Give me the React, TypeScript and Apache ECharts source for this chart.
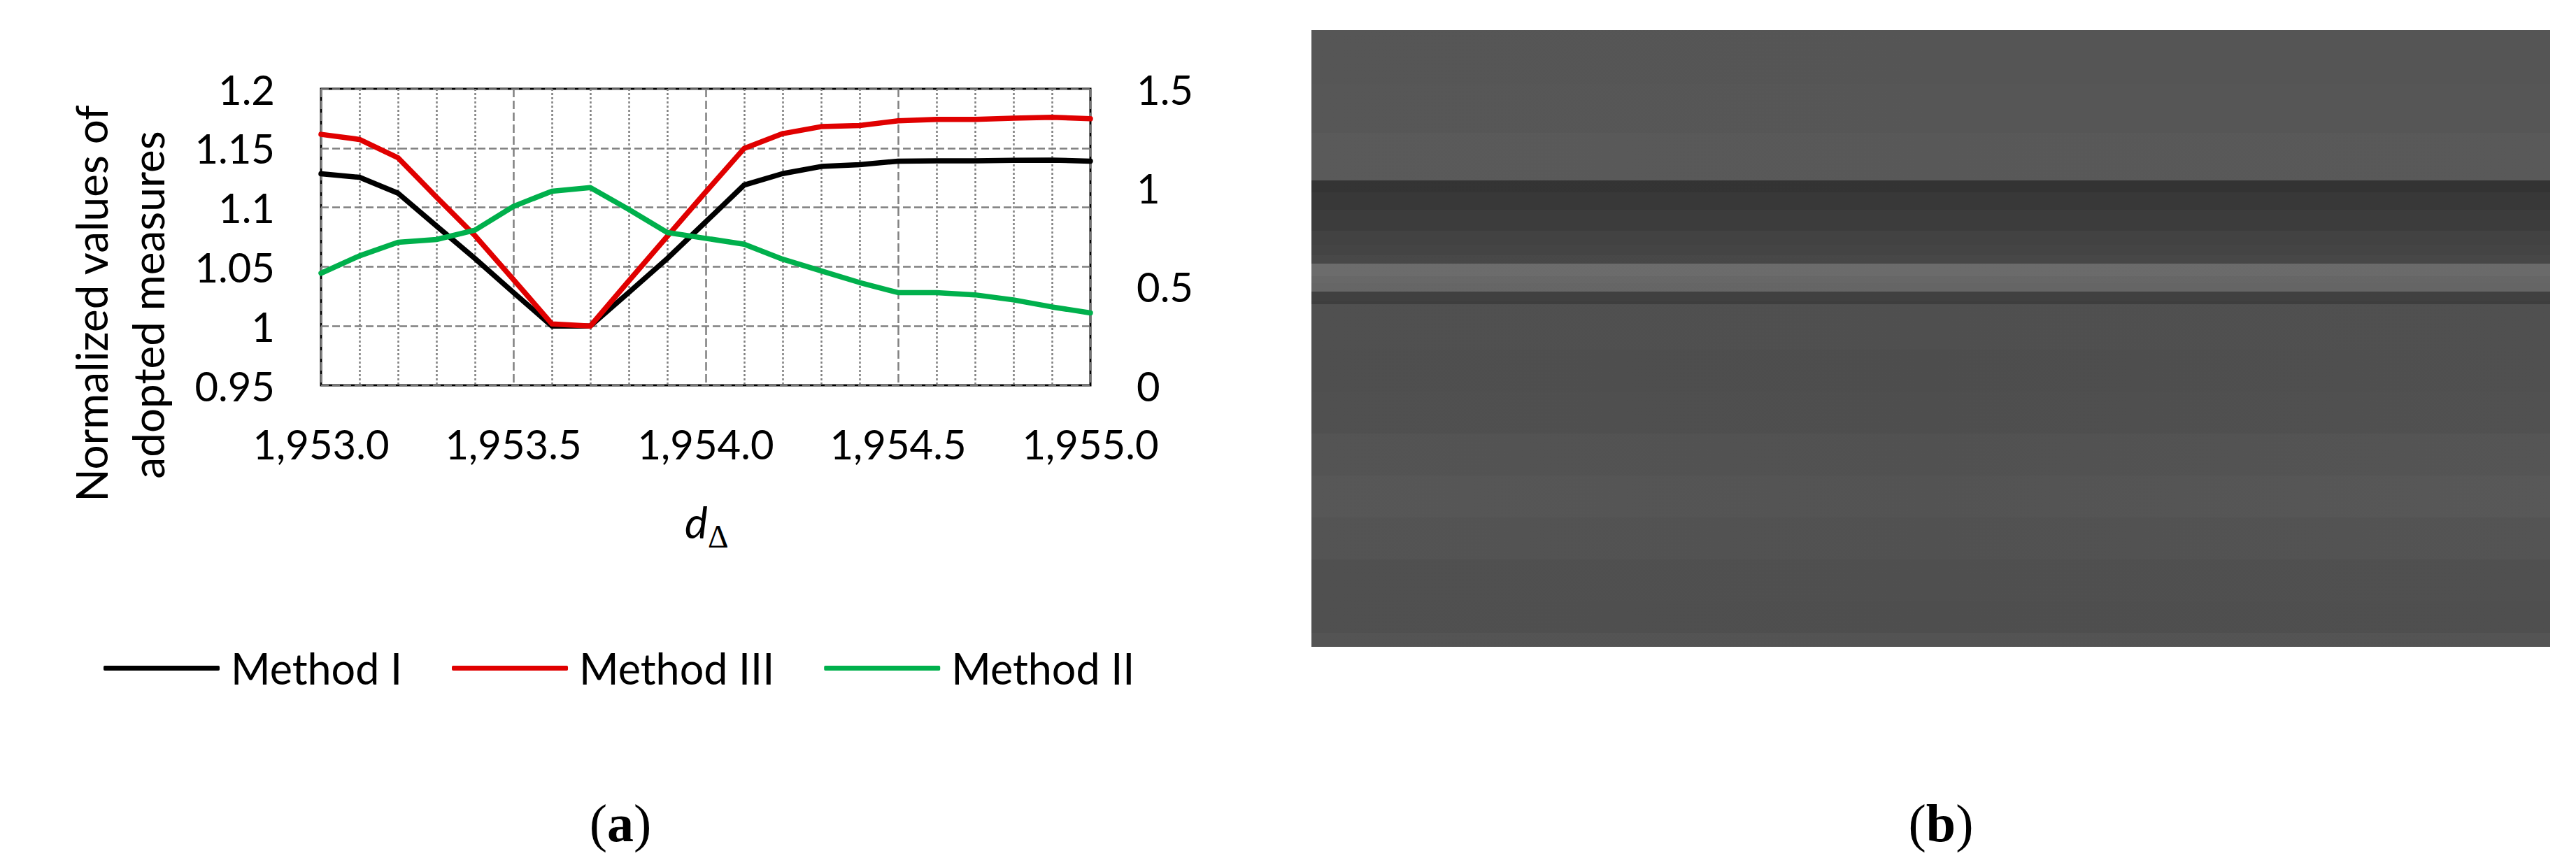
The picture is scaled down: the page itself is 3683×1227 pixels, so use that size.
import React, { useEffect, useRef } from "react";
import * as echarts from "echarts";

const FONT = "Lato";

const xValues = [1953, 1953.1, 1953.2, 1953.3, 1953.4, 1953.5, 1953.6, 1953.7, 1953.8, 1953.9, 1954, 1954.1, 1954.2, 1954.3, 1954.4, 1954.5, 1954.6, 1954.7, 1954.8, 1954.9, 1955];
const methodI = [1.1283, 1.1254, 1.112, 1.0844, 1.0569, 1.0283, 1.0, 1.0, 1.0283, 1.0569, 1.0878, 1.1189, 1.1285, 1.1345, 1.136, 1.139, 1.1393, 1.1393, 1.1397, 1.1399, 1.139];
const methodIII = [1.1616, 1.1573, 1.1419, 1.1087, 1.0762, 1.0392, 1.0018, 1.0, 1.038, 1.0756, 1.113, 1.1498, 1.1622, 1.1681, 1.1691, 1.173, 1.1742, 1.1742, 1.1752, 1.176, 1.1748];
const methodII = [0.567, 0.655, 0.7235, 0.7376, 0.785, 0.905, 0.982, 1.0, 0.89, 0.773, 0.7435, 0.714, 0.638, 0.579, 0.52, 0.469, 0.469, 0.4576, 0.432, 0.3965, 0.366];
const legendNames = ["Method I", "Method III", "Method II"];

// panel (b): horizontal strips, rows in picture pixels, grey levels read at left / centre / right
const stripEdges = [43, 120, 190, 258, 275, 300, 330, 350, 365, 377, 395, 405, 417, 430, 435, 500, 560, 620, 680, 740, 800, 860, 905, 925];
const stripLeft = [0x56, 0x57, 0x5a, 0x34, 0x38, 0x3c, 0x42, 0x44, 0x48, 0x6c, 0x68, 0x66, 0x40, 0x3e, 0x50, 0x4f, 0x50, 0x54, 0x57, 0x54, 0x50, 0x50, 0x54];
const stripMid = [0x55, 0x56, 0x58, 0x33, 0x38, 0x3c, 0x42, 0x44, 0x47, 0x6b, 0x67, 0x65, 0x40, 0x3e, 0x4f, 0x4d, 0x4e, 0x51, 0x53, 0x51, 0x4f, 0x4e, 0x53];
const stripRight = [0x55, 0x56, 0x59, 0x33, 0x38, 0x3c, 0x42, 0x44, 0x47, 0x6a, 0x66, 0x65, 0x40, 0x3e, 0x50, 0x50, 0x51, 0x55, 0x58, 0x54, 0x50, 0x4f, 0x54];

const grey = (g: number) => `rgb(${g},${g},${g})`;

export default function App() {
  const ref = useRef<HTMLDivElement>(null);
  useEffect(() => {
    const chart = echarts.init(ref.current!, null, { renderer: "svg" });
    const line = (name: string, values: number[], color: string, yAxisIndex: number) => ({
      name,
      type: "line",
      xAxisIndex: 0,
      yAxisIndex,
      data: values.map((v, i) => [xValues[i], v]),
      symbol: "none",
      clip: false,
      lineStyle: { color, width: 7.5, cap: "round", join: "round" },
      itemStyle: { color },
    });
    const dashH = { color: "#808080", width: 2.5, type: [11, 5] as number[] };
    chart.setOption({
      animation: false,
      backgroundColor: "#fff",
      textStyle: { fontFamily: FONT },
      grid: [
        { left: 459, top: 127, width: 1100, height: 424, show: true, backgroundColor: "transparent", borderColor: "#000", borderWidth: 3, containLabel: false },
        { left: 1875, top: 43, width: 1771, height: 882, show: false },
      ],
      legend: {
        left: 148,
        top: 925,
        padding: 0,
        icon: "roundRect",
        itemWidth: 166,
        itemHeight: 7,
        itemGap: 71,
        data: legendNames,
        textStyle: { fontFamily: FONT, fontSize: 61, color: "#000", padding: [0, 0, 0, 11] },
      },
      xAxis: [
        {
          type: "value",
          gridIndex: 0,
          min: 1953,
          max: 1955,
          interval: 0.5,
          axisLine: { show: false },
          axisTick: { show: false },
          minorTick: { show: false, splitNumber: 5 },
          axisLabel: {
            fontFamily: FONT,
            fontSize: 58,
            color: "#000",
            margin: 54,
            showMinLabel: true,
            showMaxLabel: true,
            formatter: (v: number) => v.toLocaleString("en-US", { minimumFractionDigits: 1, maximumFractionDigits: 1 }),
          },
          splitLine: { show: true, lineStyle: { color: "#808080", width: 2.5, type: [12, 5] } },
          minorSplitLine: { show: true, lineStyle: { color: "#808080", width: 2.5, type: [3, 3] } },
        },
        { type: "value", gridIndex: 1, min: 0, max: 1, show: false },
      ],
      yAxis: [
        {
          type: "value",
          gridIndex: 0,
          min: 0.95,
          max: 1.2,
          interval: 0.05,
          axisLine: { show: false },
          axisTick: { show: false },
          axisLabel: {
            fontFamily: FONT,
            fontSize: 58,
            color: "#000",
            margin: 66,
            formatter: (v: number) => String(Math.round(v * 100) / 100),
          },
          splitLine: { show: true, lineStyle: dashH },
        },
        {
          type: "value",
          gridIndex: 0,
          position: "right",
          min: 0,
          max: 1.5,
          interval: 0.5,
          axisLine: { show: false },
          axisTick: { show: false },
          splitLine: { show: false },
          axisLabel: { fontFamily: FONT, fontSize: 58, color: "#000", margin: 66 },
        },
        { type: "value", gridIndex: 1, min: 43, max: 925, inverse: true, show: false },
      ],
      series: [
        line(legendNames[0], methodI, "#000000", 0),
        line(legendNames[1], methodIII, "#E00000", 0),
        line(legendNames[2], methodII, "#00B04C", 1),
        {
          type: "custom",
          name: "panel b",
          xAxisIndex: 1,
          yAxisIndex: 2,
          silent: true,
          clip: false,
          data: stripLeft.map((g, i) => [0, stripEdges[i], stripEdges[i + 1], g, stripMid[i], stripRight[i]]),
          renderItem: (_: any, api: any) => {
            const a = api.coord([0, api.value(1)]);
            const b = api.coord([1, api.value(2)]);
            return {
              type: "rect",
              shape: { x: a[0], y: a[1], width: b[0] - a[0], height: b[1] - a[1] },
              style: {
                fill: new echarts.graphic.LinearGradient(0, 0, 1, 0, [
                  { offset: 0, color: grey(api.value(3)) },
                  { offset: 0.5, color: grey(api.value(4)) },
                  { offset: 1, color: grey(api.value(5)) },
                ]),
              },
            };
          },
        },
      ],
      graphic: [
        {
          type: "text",
          x: 130,
          y: 434,
          rotation: Math.PI / 2,
          style: { text: "Normalized values of", font: `62px ${FONT}`, fill: "#000", align: "center", verticalAlign: "middle" },
        },
        {
          type: "text",
          x: 211,
          y: 436,
          rotation: Math.PI / 2,
          style: { text: "adopted measures", font: `62px ${FONT}`, fill: "#000", align: "center", verticalAlign: "middle" },
        },
        { type: "text", x: 979, y: 715, style: { text: "d", font: `italic 62px ${FONT}`, fill: "#000" } },
        { type: "text", x: 1012, y: 744, style: { text: "Δ", font: `46px "Liberation Serif"`, fill: "#000" } },
        {
          type: "text",
          x: 887,
          y: 1177,
          style: {
            text: "({b|a})",
            font: `76px "Liberation Serif"`,
            fill: "#000",
            align: "center",
            verticalAlign: "middle",
            rich: { b: { font: `bold 76px "Liberation Serif"`, fill: "#000" } },
          },
        },
        {
          type: "text",
          x: 2775,
          y: 1177,
          style: {
            text: "({b|b})",
            font: `76px "Liberation Serif"`,
            fill: "#000",
            align: "center",
            verticalAlign: "middle",
            rich: { b: { font: `bold 76px "Liberation Serif"`, fill: "#000" } },
          },
        },
      ],
    });
    return () => chart.dispose();
  }, []);
  return <div ref={ref} style={{ position: "fixed", left: 0, top: 0, width: 3683, height: 1227, background: "#fff" }} />;
}
